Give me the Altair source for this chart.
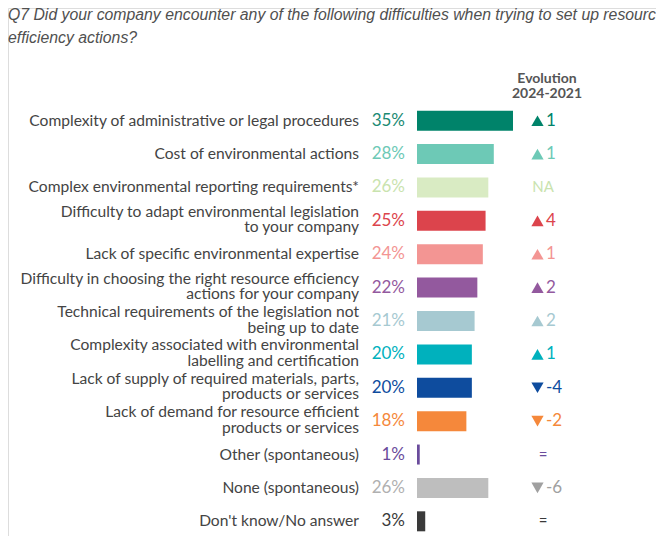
import altair as alt
import pandas as pd

title_lines = [
    "Q7 Did your company encounter any of the following difficulties when trying to set up resource",
    "efficiency actions?",
]
header_lines = ["Evolution", "2024-2021"]

labels = [
    "Complexity of administrative or legal procedures",
    "Cost of environmental actions",
    "Complex environmental reporting requirements*",
    "Difficulty to adapt environmental legislation\nto your company",
    "Lack of specific environmental expertise",
    "Difficulty in choosing the right resource efficiency\nactions for your company",
    "Technical requirements of the legislation not\nbeing up to date",
    "Complexity associated with environmental\nlabelling and certification",
    "Lack of supply of required materials, parts,\nproducts or services",
    "Lack of demand for resource efficient\nproducts or services",
    "Other (spontaneous)",
    "None (spontaneous)",
    "Don't know/No answer",
]
values = [35, 28, 26, 25, 24, 22, 21, 20, 20, 18, 1, 26, 3]
bar_colors = ["#00836A", "#6DC9B6", "#D9EBC3", "#DC444C", "#F39593", "#93599E",
              "#A6C9D1", "#00B1BD", "#0E4C9E", "#F5883B", "#6A4C9C", "#BEBEBE", "#3A3A3A"]
pct_colors = ["#1A8A73", "#6DC9B6", "#C9E3AE", "#DC444C", "#F39593", "#93599E",
              "#A6C9D1", "#00B1BD", "#0E4C9E", "#F5883B", "#6A4C9C", "#B0B0B0", "#3A3A3A"]
evo_values = ["1", "1", "NA", "4", "1", "2", "2", "1", "-4", "-2", "=", "-6", "="]
evo_trend = ["up", "up", "", "up", "up", "up", "up", "up", "down", "down", "", "down", ""]
evo_colors = ["#00836A", "#6DC9B6", "#C9E3AE", "#DC444C", "#F39593", "#93599E",
              "#A6C9D1", "#00B1BD", "#0E4C9E", "#F5883B", "#6A4C9C", "#A0A0A0", "#3A3A3A"]

df = pd.DataFrame({
    "label": labels,
    "value": values,
    "bar_color": bar_colors,
    "pct_color": pct_colors,
    "pct": [f"{v}%" for v in values],
    "evo": evo_values,
    "trend": evo_trend,
    "evo_color": evo_colors,
})
df["label_lines"] = df["label"].str.split("\n")
df["nlines"] = df["label_lines"].str.len()

title_df = pd.DataFrame({"line": title_lines, "row": [0, 1]})
header_df = pd.DataFrame({"line": header_lines, "row": [0, 1]})

y_enc = alt.Y("label:N", sort=labels, axis=None,
              scale=alt.Scale(domain=labels, range=[96.0, 530.0], paddingInner=0, paddingOuter=0))

base = alt.Chart(df)

bars = base.mark_bar(size=20).encode(
    x=alt.X("value:Q", axis=None, scale=alt.Scale(domain=[0, 35], range=[409, 505])),
    y=y_enc,
    color=alt.Color("bar_color:N", scale=None),
)

label_style = dict(align="right", baseline="middle", font="Lato", fontSize=15.6,
                   color="#444444", lineHeight=15.5)

cat_text1 = base.transform_filter("datum.nlines == 1").mark_text(**label_style).encode(
    x=alt.value(351), y=y_enc, text="label_lines",
)
cat_text2 = base.transform_filter("datum.nlines > 1").mark_text(dy=-9, **label_style).encode(
    x=alt.value(351), y=y_enc, text="label_lines",
)

pct_text = base.mark_text(align="right", baseline="middle", font="Lato", fontSize=17).encode(
    x=alt.value(397), y=y_enc, text="pct:N",
    color=alt.Color("pct_color:N", scale=None),
)

tri = base.transform_filter("datum.trend != ''").mark_point(filled=True, opacity=1, size=150).encode(
    x=alt.value(529.5), y=y_enc,
    shape=alt.Shape("trend:N", legend=None,
                    scale=alt.Scale(domain=["up", "down"], range=["triangle-up", "triangle-down"])),
    color=alt.Color("evo_color:N", scale=None),
)

evo_num = base.transform_filter("datum.trend != ''").mark_text(
    align="left", baseline="middle", font="Lato", fontSize=17).encode(
    x=alt.value(538), y=y_enc, text="evo:N",
    color=alt.Color("evo_color:N", scale=None),
)

evo_other = base.transform_filter("datum.trend == ''").mark_text(
    align="center", baseline="middle", font="Lato", fontSize=15).encode(
    x=alt.value(535), y=y_enc, text="evo:N",
    color=alt.Color("evo_color:N", scale=None),
)

data_layers = alt.layer(bars, cat_text1, cat_text2, pct_text, tri, evo_num, evo_other)

title = alt.Chart(title_df).mark_text(align="left", baseline="middle", font="Liberation Sans",
                                      fontStyle="italic", fontSize=15.8, color="#505050").encode(
    x=alt.value(0),
    y=alt.Y("row:Q", axis=None, scale=alt.Scale(domain=[0, 1], range=[6.5, 29.5])),
    text="line:N",
)

header = alt.Chart(header_df).mark_text(align="center", baseline="middle", font="Lato",
                                        fontWeight="bold", fontSize=14, color="#555555").encode(
    x=alt.value(539),
    y=alt.Y("row:Q", axis=None, scale=alt.Scale(domain=[0, 1], range=[71, 86])),
    text="line:N",
)

chart = alt.layer(data_layers, title, header).resolve_scale(
    y="independent"
).properties(
    width=648, height=528, padding=0, autosize=alt.AutoSizeParams(type="none")
).configure_view(strokeWidth=0).configure(background="white")

chart.save("out.html", embed_options={"renderer": "svg", "actions": False})
